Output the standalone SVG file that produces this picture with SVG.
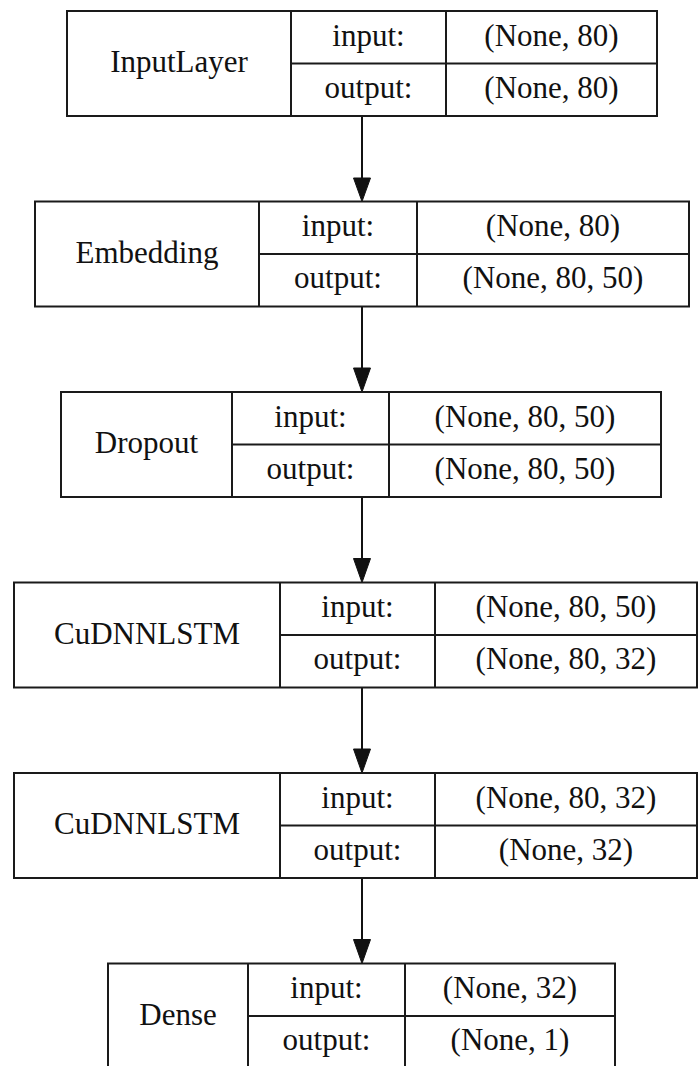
<svg xmlns="http://www.w3.org/2000/svg" width="699" height="1066" viewBox="0 0 699 1066">
<style>
.box{fill:#fff;stroke:#1a1a1a;stroke-width:2}
.ln{stroke:#1a1a1a;stroke-width:2;fill:none}
.t{font-family:"Liberation Serif","Times New Roman",serif;font-size:31px;fill:#111;text-anchor:middle}
.edge{stroke:#111;stroke-width:2;fill:none}
.head{fill:#111;stroke:#111;stroke-width:1}
</style>
<rect width="699" height="1066" fill="#fff"/>
<g id="connectors">
<line class="edge" x1="362" y1="116" x2="362" y2="180"/><polygon class="head" points="353.5,178 370.5,178 362,201.5"/>
<line class="edge" x1="362" y1="306.5" x2="362" y2="370"/><polygon class="head" points="353.5,368 370.5,368 362,392"/>
<line class="edge" x1="362" y1="497" x2="362" y2="561"/><polygon class="head" points="353.5,558.5 370.5,558.5 362,582.5"/>
<line class="edge" x1="362" y1="687.5" x2="362" y2="751"/><polygon class="head" points="353.5,749 370.5,749 362,773"/>
<line class="edge" x1="362" y1="878" x2="362" y2="942"/><polygon class="head" points="353.5,939.5 370.5,939.5 362,963.5"/>
</g>
<g id="node-inputlayer">
<rect class="box" x="67" y="11" width="590" height="105"/>
<path class="ln" d="M291 11V116M446 11V116M291 63.5H657"/>
<text class="t" x="179" y="72">InputLayer</text>
<text class="t" x="368.5" y="45.5">input:</text>
<text class="t" x="368.5" y="97.5">output:</text>
<text class="t" x="551.5" y="45.5">(None, 80)</text>
<text class="t" x="551.5" y="97.5">(None, 80)</text>
</g>
<g id="node-embedding">
<rect class="box" x="35" y="201.5" width="654" height="105"/>
<path class="ln" d="M259 201.5V306.5M417 201.5V306.5M259 254H689"/>
<text class="t" x="147" y="262.5">Embedding</text>
<text class="t" x="338" y="236">input:</text>
<text class="t" x="338" y="288">output:</text>
<text class="t" x="553" y="236">(None, 80)</text>
<text class="t" x="553" y="288">(None, 80, 50)</text>
</g>
<g id="node-dropout">
<rect class="box" x="61" y="392" width="600" height="105"/>
<path class="ln" d="M232 392V497M389 392V497M232 444.5H661"/>
<text class="t" x="146.5" y="453">Dropout</text>
<text class="t" x="310.5" y="426.5">input:</text>
<text class="t" x="310.5" y="478.5">output:</text>
<text class="t" x="525" y="426.5">(None, 80, 50)</text>
<text class="t" x="525" y="478.5">(None, 80, 50)</text>
</g>
<g id="node-cudnnlstm1">
<rect class="box" x="14" y="582.5" width="683" height="105"/>
<path class="ln" d="M280 582.5V687.5M435 582.5V687.5M280 635H697"/>
<text class="t" x="147" y="643.5">CuDNNLSTM</text>
<text class="t" x="357.5" y="617">input:</text>
<text class="t" x="357.5" y="669">output:</text>
<text class="t" x="566" y="617">(None, 80, 50)</text>
<text class="t" x="566" y="669">(None, 80, 32)</text>
</g>
<g id="node-cudnnlstm2">
<rect class="box" x="14" y="773" width="683" height="105"/>
<path class="ln" d="M280 773V878M435 773V878M280 825.5H697"/>
<text class="t" x="147" y="834">CuDNNLSTM</text>
<text class="t" x="357.5" y="807.5">input:</text>
<text class="t" x="357.5" y="859.5">output:</text>
<text class="t" x="566" y="807.5">(None, 80, 32)</text>
<text class="t" x="566" y="859.5">(None, 32)</text>
</g>
<g id="node-dense">
<rect class="box" x="108" y="963.5" width="507" height="105"/>
<path class="ln" d="M248 963.5V1068.5M405 963.5V1068.5M248 1016H615"/>
<text class="t" x="178" y="1024.5">Dense</text>
<text class="t" x="326.5" y="998">input:</text>
<text class="t" x="326.5" y="1050">output:</text>
<text class="t" x="510" y="998">(None, 32)</text>
<text class="t" x="510" y="1050">(None, 1)</text>
</g>
</svg>
